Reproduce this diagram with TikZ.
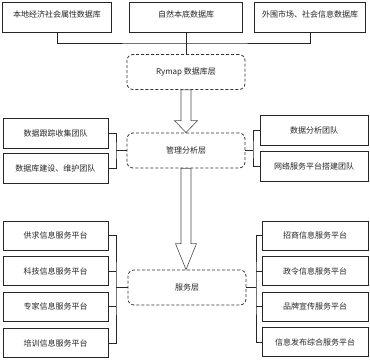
\documentclass[tikz,border=0pt]{standalone}
\usepackage{fontspec}
\newfontfamily\cjk{Noto Sans CJK SC}
\usetikzlibrary{positioning, calc}
\tikzset{
  dbbox/.style={rectangle, draw=black!85, line width=0.6pt, fill=white,
                minimum width=#1, minimum height=30pt, inner sep=1pt,
                font=\cjk\fontsize{8}{9}\selectfont, text=black!85, align=center},
  dbbox/.default=106pt,
  layerbox/.style={rectangle, rounded corners=6pt, draw=black!80, dash pattern=on 3pt off 2pt,
                   line width=0.8pt, fill=white, minimum width=118pt, minimum height=35pt,
                   font=\cjk\fontsize{8}{9}\selectfont, text=black!85, align=center},
  link/.style={draw=black!85, line width=0.6pt},
  blockarr/.style={draw=black!70, line width=0.6pt, fill=white, line join=miter},
}
\begin{document}
\begin{tikzpicture}[x=1pt, y=-1pt]
  \useasboundingbox (0,0) rectangle (370,360);

  %% DATA SOURCES
  \node[dbbox=109pt, text depth=5pt] (db1) at (57,17)  {本地经济社会属性数据库};
  \node[dbbox=113pt, text depth=5pt] (db2) at (186,17) {自然本底数据库};
  \node[dbbox=111pt, text depth=5pt] (db3) at (310,17) {外围市场、社会信息数据库};

  %% LAYERS
  \node[layerbox] (rymap) at (186,72)    {Rymap 数据库层};
  \node[layerbox] (mgmt)  at (186,150.5) {管理分析层};
  \node[layerbox] (svc)   at (187,287.5) {服务层};

  \coordinate (bus) at (186,43);
  \draw[link] (db1.south) |- (bus) -| (db3.south);
  \draw[link] (db2.south) -- (rymap.north);

  %% BLOCK ARROWS
  \draw[blockarr] ($(rymap.south)+(-5,0)$) -- ($(mgmt.north)+(-5,-12)$) -- ($(mgmt.north)+(-11.5,-12)$)
       -- (mgmt.north) -- ($(mgmt.north)+(11.5,-12)$) -- ($(mgmt.north)+(5,-12)$)
       -- ($(rymap.south)+(5,0)$) -- cycle;
  \draw[blockarr] ($(mgmt.south)+(-5,0)$) -- ($(mgmt.south |- svc.north)+(-5,-26)$) -- ($(mgmt.south |- svc.north)+(-10.5,-26)$)
       -- (mgmt.south |- svc.north) -- ($(mgmt.south |- svc.north)+(10.5,-26)$) -- ($(mgmt.south |- svc.north)+(5,-26)$)
       -- ($(mgmt.south)+(5,0)$) -- cycle;

  %% TEAMS
  \node[dbbox=105pt] (teamA) at (55.5,133) {数据跟踪收集团队};
  \node[dbbox=105pt] (teamB) at (55.5,168) {数据库建设、维护团队};
  \node[dbbox=108pt] (teamC) at (314,130)  {数据分析团队};
  \node[dbbox=108pt] (teamD) at (314,166.5) {网络服务平台搭建团队};

  \coordinate (ml) at (116,150.5);
  \coordinate (mr) at (253,150.5);
  \draw[link] (teamA.east) -| (ml) |- (teamB.east);
  \draw[link] (ml) -- (mgmt.west);
  \draw[link] (teamC.west) -| (mr) |- (teamD.west);
  \draw[link] (mr) -- (mgmt.east);

  %% PLATFORMS
  \node[dbbox=105pt, minimum height=29pt] (lp1) at (55.5,235.5) {供求信息服务平台};
  \node[dbbox=105pt, minimum height=29pt] (lp2) at (55.5,271)   {科技信息服务平台};
  \node[dbbox=105pt, minimum height=29pt] (lp3) at (55.5,306.5) {专家信息服务平台};
  \node[dbbox=105pt, minimum height=29pt] (lp4) at (55.5,343)   {培训信息服务平台};
  \node[dbbox=106pt, minimum height=29pt] (rp1) at (315,235.5)  {招商信息服务平台};
  \node[dbbox=106pt, minimum height=29pt] (rp2) at (315,271)    {政令信息服务平台};
  \node[dbbox=106pt, minimum height=29pt] (rp3) at (315,306.5)  {品牌宣传服务平台};
  \node[dbbox=106pt, minimum height=29pt] (rp4) at (315,342)    {信息发布综合服务平台};

  \coordinate (bl) at (116,287.5);
  \coordinate (br) at (256,287.5);
  \draw[link] (lp1.east) -| (bl) |- (lp4.east);
  \draw[link] (lp2.east) -- (lp2.east -| bl);
  \draw[link] (lp3.east) -- (lp3.east -| bl);
  \draw[link] (bl) -- (svc.west);
  \draw[link] (rp1.west) -| (br) |- (rp4.west);
  \draw[link] (rp2.west) -- (rp2.west -| br);
  \draw[link] (rp3.west) -- (rp3.west -| br);
  \draw[link] (br) -- (svc.east);

\end{tikzpicture}
\end{document}
